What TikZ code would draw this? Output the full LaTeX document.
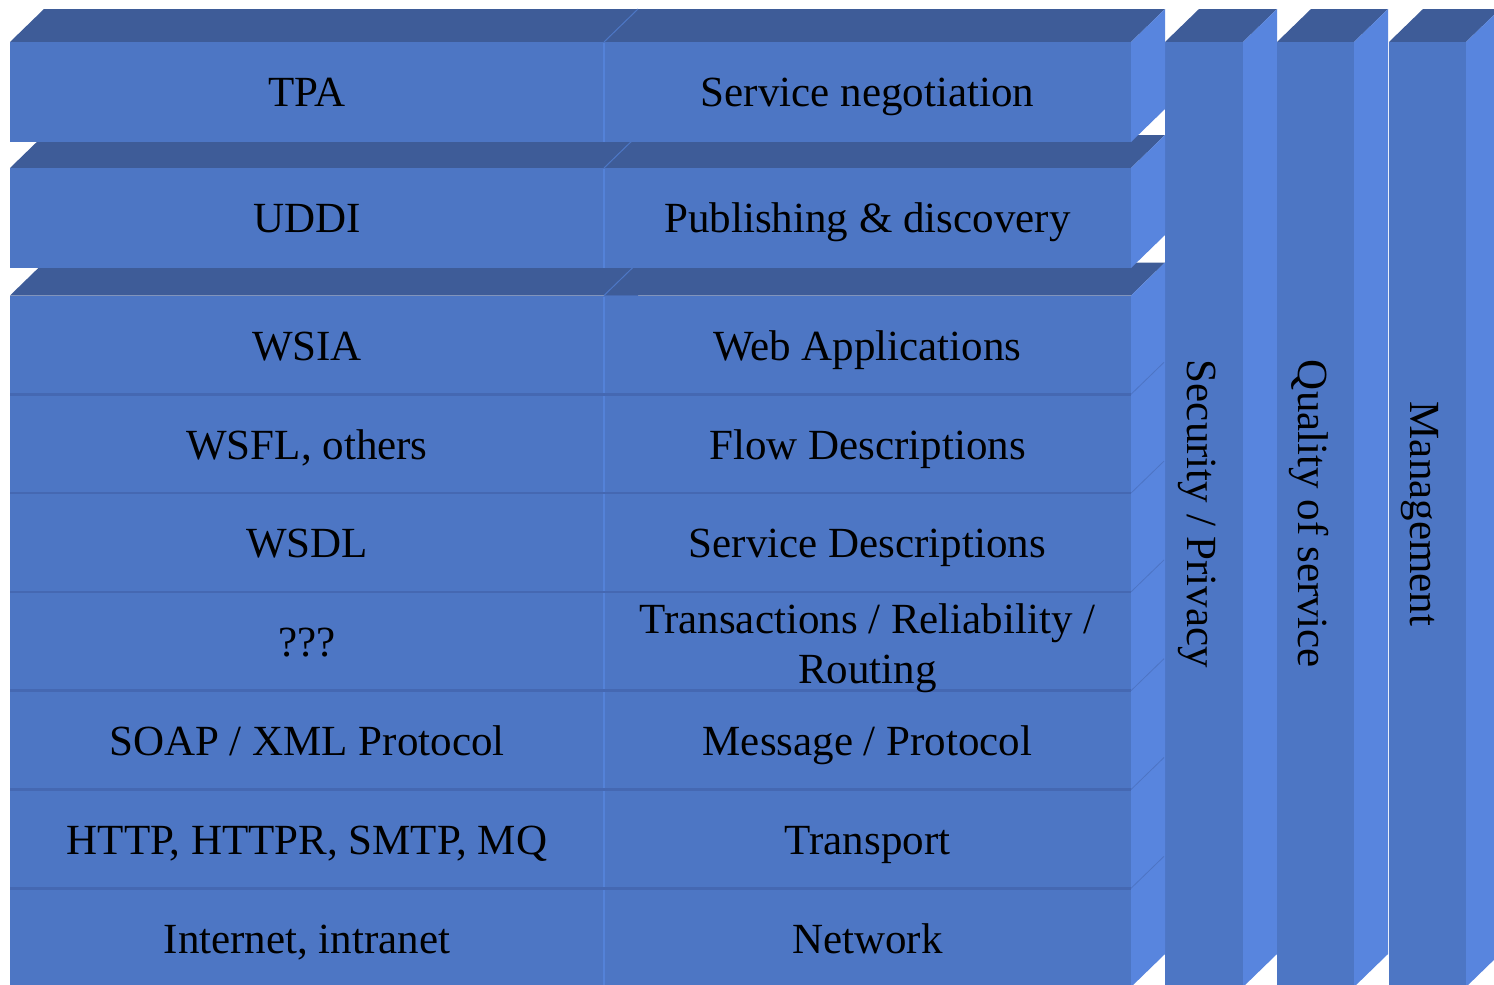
\documentclass[tikz,border=0pt]{standalone}
\usepackage{fontspec}
\setmainfont{Liberation Serif}
\definecolor{facefront}{HTML}{4D76C4}
\definecolor{facetop}{HTML}{3E5C98}
\definecolor{faceside}{HTML}{5885DE}
\definecolor{rowrule}{HTML}{4568B2}
\definecolor{colrule}{HTML}{5482D8}
\tikzset{
  front face/.style={fill=facefront},
  top face/.style={fill=facetop},
  side face/.style={fill=faceside},
  row rule/.style={draw=rowrule, line width=2.5bp},
  col rule/.style={draw=colrule, line width=2bp},
  edge rule/.style={draw=colrule!70!facetop, line width=1bp},
  side rule/.style={draw=rowrule!60!faceside, line width=0.8bp},
  label/.style={
    font=\fontsize{43bp}{50bp}\selectfont, text=black, inner sep=0pt,
    text height=28.4bp, text depth=0pt
  },
  two lines/.style={
    font=\fontsize{43bp}{50bp}\selectfont, text=black, inner sep=0pt,
    align=center
  }
}
% 立方体：x1, x2, 上沿 y, 下沿 y
\newcommand\slab[4]{%
  \fill[top face] (#1,#3) -- ++(34,-33) -- (#2+34,#3-33) -- (#2,#3) -- cycle;
  \fill[side face] (#2,#3) -- ++(34,-33) -- (#2+34,#4-33) -- (#2,#4) -- cycle;
  \fill[front face] (#1,#3) rectangle (#2,#4);
}

\begin{document}
\begin{tikzpicture}[x=1bp, y=-1bp]
\path[use as bounding box, fill=white] (0,0) rectangle (1494,984);
\clip (0,0) rectangle (1494,984);

% 右边三根竖柱
\slab{1165}{1243}{42}{987}
\slab{1277}{1354}{42}{987}
\slab{1389}{1466}{42}{987}
\node[label, rotate=-90] (security) at (1202,514) {Security / Privacy};
\node[label, rotate=-90] (quality)  at (1313,514) {Quality of service};
\node[label, rotate=-90] (manage)   at (1425,514) {Management};

% 下面的大块：七层
\slab{10}{604}{295.5}{987}
\slab{604}{1131}{295.5}{987}
\draw[edge rule] (604,295.5) -- ++(34,-33);
\draw[col rule] (604,296.5) -- (604,987);
\foreach \r in {1,...,6}{
  \draw[row rule] (10,295.5+\r*98.8) -- (1131,295.5+\r*98.8);
  \draw[side rule] (1131,295.5+\r*98.8) -- ++(33,-32);
}
\foreach \r/\lname/\ltext/\rname/\rtext in {
    0/wsia/WSIA/webapps/Web Applications,
    1/wsfl/{WSFL, others}/flows/Flow Descriptions,
    2/wsdl/WSDL/descriptions/Service Descriptions,
    4/soap/{SOAP / XML Protocol}/messages/{Message / Protocol},
    5/http/{HTTP, HTTPR, SMTP, MQ}/transport/Transport,
    6/internet/{Internet, intranet}/network/Network}{
  \node[label] (\lname) at (307,346+\r*98.8) {\ltext};
  \node[label] (\rname) at (867.5,346+\r*98.8) {\rtext};
}
\node[label] (unknown) at (307,642) {???};
\node[two lines] (transactions) at (867.5,648) {Transactions / Reliability /\\Routing};

% 第二层：UDDI
\slab{10}{604}{168}{268}
\slab{604}{1131}{168}{268}
\draw[edge rule] (604,168) -- ++(34,-33);
\draw[col rule] (604,169) -- (604,268);
\node[label] (uddi) at (307,218) {UDDI};
\node[label] (publishing) at (867.5,218) {Publishing \& discovery};

% 最上层：TPA
\slab{10}{604}{42}{142}
\slab{604}{1131}{42}{142}
\draw[edge rule] (604,42) -- ++(34,-33);
\draw[col rule] (604,43) -- (604,142);
\node[label] (tpa) at (307,92) {TPA};
\node[label] (negotiation) at (867.5,92) {Service negotiation};

\end{tikzpicture}
\end{document}
